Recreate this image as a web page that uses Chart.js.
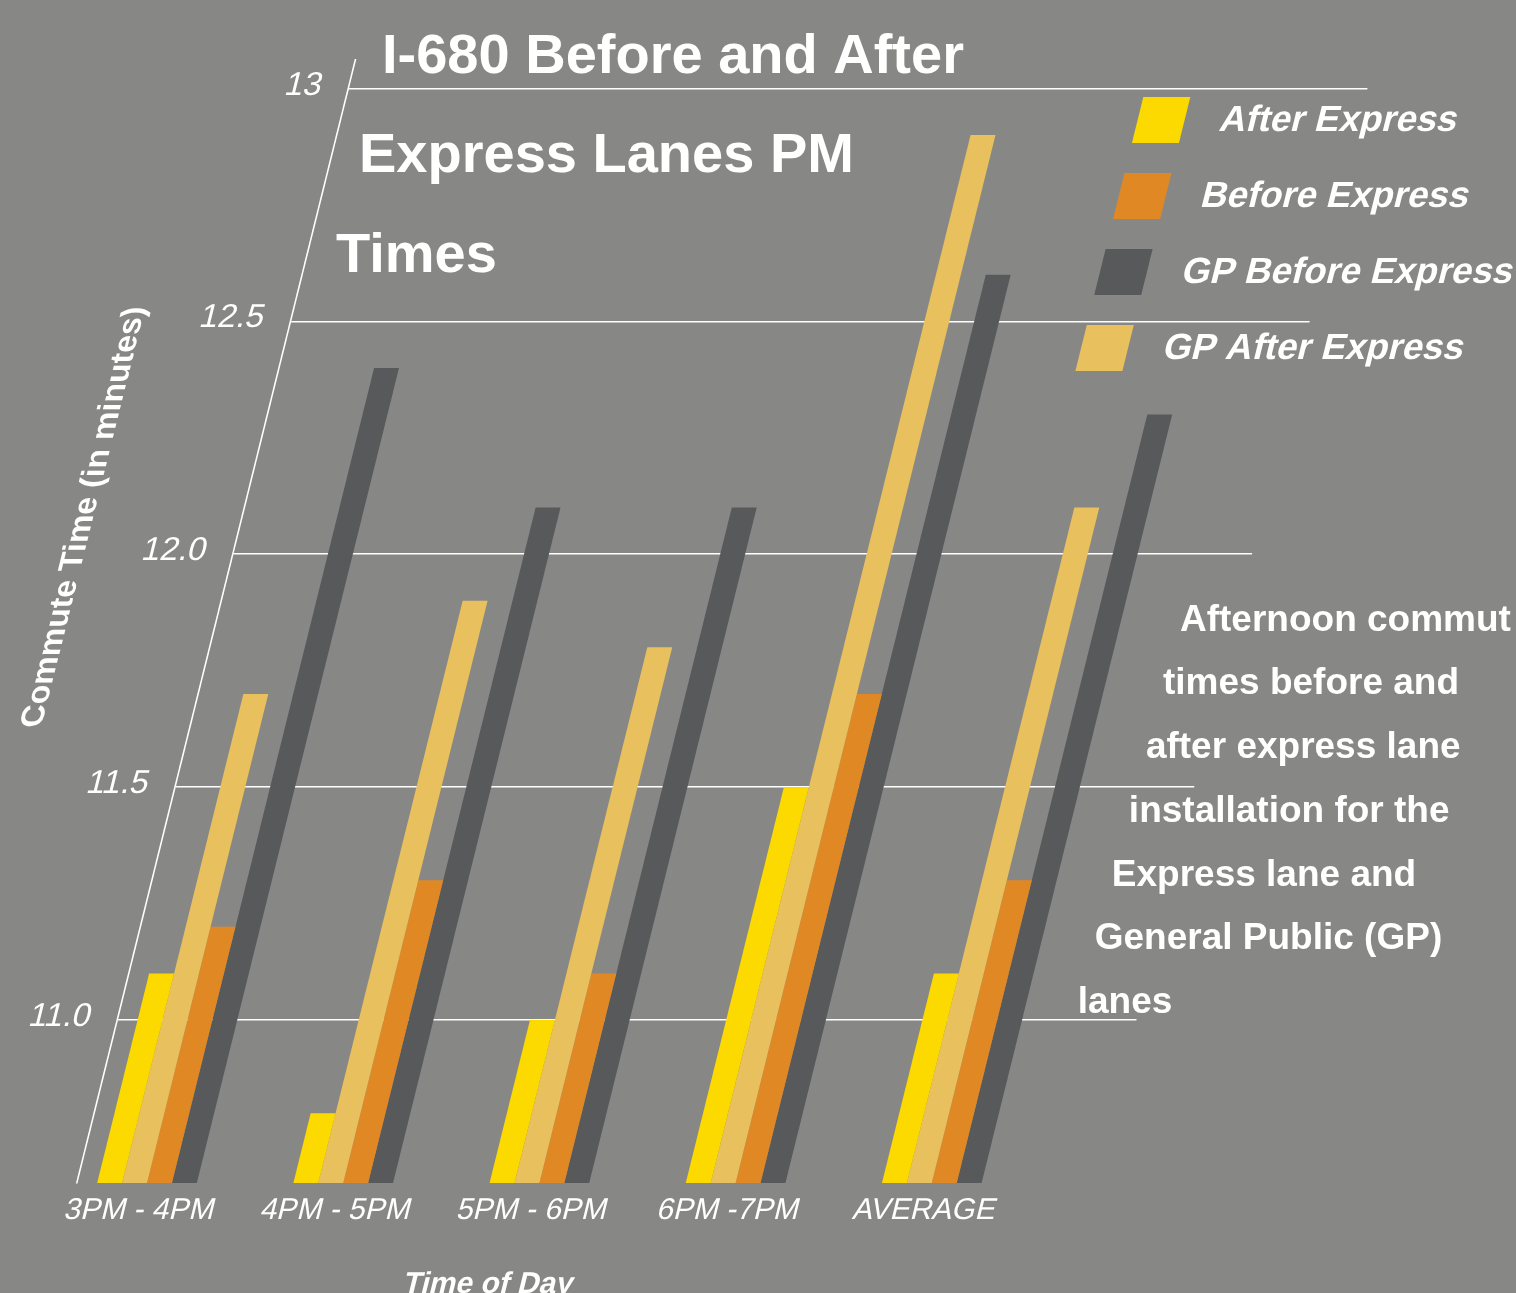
<!DOCTYPE html>
<html>
<head>
<meta charset="utf-8">
<title>I-680 Before and After Express Lanes PM Times</title>
<script src="https://cdn.jsdelivr.net/npm/chart.js@4.4.1/dist/chart.umd.min.js"></script>
<style>
  html, body { margin: 0; padding: 0; background: #878886; }
  #wrap { width: 1516px; height: 1293px; position: relative; overflow: hidden; }
  canvas { display: block; }
</style>
</head>
<body>
<div id="wrap"><canvas id="chart" width="1516" height="1293"></canvas></div>
<script>
// ---- data ----
const categories = ['3PM - 4PM', '4PM - 5PM', '5PM - 6PM', '6PM -7PM', 'AVERAGE'];
const afterExpress    = [11.1, 10.8, 11.0, 11.5, 11.1];
const gpAfterExpress  = [11.7, 11.9, 11.8, 12.9, 12.1];
const beforeExpress   = [11.2, 11.3, 11.1, 11.7, 11.3];
const gpBeforeExpress = [12.4, 12.1, 12.1, 12.6, 12.3];
const yTickValues = [11, 11.5, 12, 12.5, 13];
const yTickLabels = ['11.0', '11.5', '12.0', '12.5', '13'];
const legendOrder = ['After Express', 'Before Express', 'GP Before Express', 'GP After Express'];
const titleLines = ['I-680 Before and After', 'Express Lanes PM', 'Times'];
const noteLines = [
  'Afternoon commut',
  'times before and',
  'after express lane',
  'installation for the',
  'Express lane and',
  'General Public (GP)',
  'lanes'
];
const xAxisTitle = 'Time of Day';
const yAxisTitle = 'Commute Time (in minutes)';

// ---- styling ----
const FONT = "'Liberation Sans', Arial, Helvetica, sans-serif";
const SKEW = 0.248;           // horizontal shear of the whole plot (px per px of height)
const WHITE = '#ffffff';
const COLORS = {
  'After Express': '#fcda00',
  'GP After Express': '#e8c05e',
  'Before Express': '#e08824',
  'GP Before Express': '#58595b'
};

function series(label, values) {
  return {
    label,
    data: values.map((v, i) => ({ x: i, y: v })),
    backgroundColor: COLORS[label],
    borderWidth: 0,
    categoryPercentage: 0.508,
    barPercentage: 1.0
  };
}

// Shears everything Chart.js draws, then adds the legend, axis titles and
// the upright headline / note text on top.
const shearAndText = {
  id: 'shearAndText',
  beforeDraw(chart) {
    const { ctx, chartArea } = chart;
    ctx.save();
    ctx.transform(1, 0, -SKEW, 1, SKEW * chartArea.bottom, 0);
  },
  afterDraw(chart) {
    const { ctx } = chart;

    // legend (sheared along with the plot)
    ctx.textAlign = 'left';
    ctx.textBaseline = 'middle';
    ctx.font = 'bold 36.5px ' + FONT;
    legendOrder.forEach((label, i) => {
      const ds = chart.data.datasets.find(d => d.label === label);
      const top = 97 + i * 76;
      ctx.fillStyle = ds.backgroundColor;
      ctx.fillRect(874, top, 47, 46);
      ctx.fillStyle = WHITE;
      ctx.fillText(label, 957, top + 23.5);
    });

    // axis titles
    ctx.fillStyle = WHITE;
    ctx.textAlign = 'center';
    ctx.textBaseline = 'alphabetic';
    ctx.font = 'bold 30px ' + FONT;
    ctx.fillText(xAxisTitle, 514, 1293);

    ctx.save();
    ctx.translate(-72, 517);
    ctx.rotate(-Math.PI / 2);
    ctx.font = 'bold 32px ' + FONT;
    ctx.fillText(yAxisTitle, 0, 0);
    ctx.restore();

    ctx.restore(); // end of shear

    // upright headline and note, stepped along the slant
    ctx.save();
    ctx.fillStyle = WHITE;
    ctx.textAlign = 'left';
    ctx.textBaseline = 'alphabetic';
    ctx.font = 'bold 56px ' + FONT;
    titleLines.forEach((t, i) => ctx.fillText(t, 382 - 23 * i, 73 + 99.3 * i));
    ctx.font = 'bold 37px ' + FONT;
    noteLines.forEach((t, i) => ctx.fillText(t, 1180 - 17.05 * i, 630.7 + 63.75 * i));
    ctx.restore();
  }
};

new Chart(document.getElementById('chart'), {
  type: 'bar',
  data: {
    datasets: [
      series('After Express', afterExpress),
      series('GP After Express', gpAfterExpress),
      series('Before Express', beforeExpress),
      series('GP Before Express', gpBeforeExpress)
    ]
  },
  options: {
    responsive: false,
    animation: false,
    events: [],
    devicePixelRatio: 1,
    // the y axis box is wider than the gap to the canvas edge so its
    // labels are not clipped once the plot is sheared to the right
    layout: { padding: { top: 60, right: 420, bottom: 0, left: -163 } },
    plugins: {
      legend: { display: false },
      title: { display: false },
      tooltip: { enabled: false }
    },
    scales: {
      x: {
        type: 'linear',
        offset: false,
        min: -0.3568,
        max: 4.837,
        afterBuildTicks(scale) {
          scale.ticks = categories.map((_, i) => ({ value: i }));
        },
        afterFit(scale) { scale.height = 110; },
        grid: { display: false, drawTicks: false },
        border: { display: false },
        ticks: {
          autoSkip: false,
          maxRotation: 0,
          padding: 10,
          color: WHITE,
          font: { family: FONT, size: 30 },
          callback: (value, index) => categories[index]
        }
      },
      y: {
        type: 'linear',
        min: 10.650,
        max: 13.061,
        afterBuildTicks(scale) {
          scale.ticks = yTickValues.map(v => ({ value: v }));
        },
        afterFit(scale) { scale.width = 240; },
        grid: { color: WHITE, lineWidth: 1.6, drawTicks: false },
        border: { display: true, color: WHITE, width: 1.6 },
        ticks: {
          padding: 27,
          labelOffset: -3,
          color: WHITE,
          font: { family: FONT, size: 33 },
          callback: (value, index) => yTickLabels[index]
        }
      }
    }
  },
  plugins: [shearAndText]
});
</script>
</body>
</html>
